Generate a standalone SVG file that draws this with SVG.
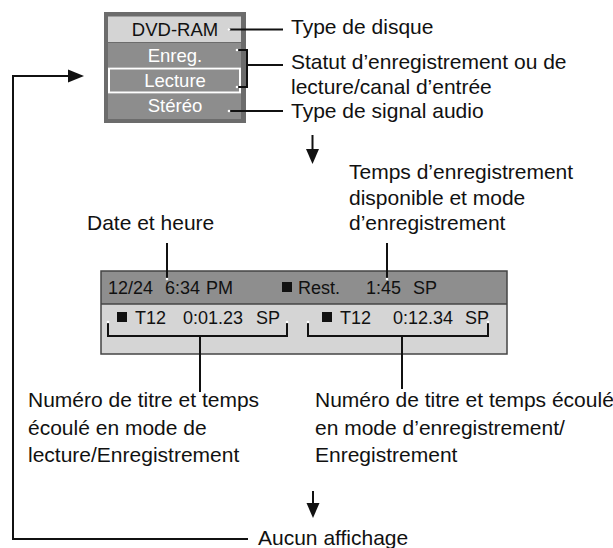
<svg xmlns="http://www.w3.org/2000/svg" width="613" height="548" viewBox="0 0 613 548">
<style>
text{font-family:"Liberation Sans",Arial,Helvetica,sans-serif;fill:#111}
.lbl{font-size:21px}
.pn{font-size:18.5px;text-anchor:middle}
.pw{fill:#ffffff}
.mp{font-size:18px}
.ln{stroke:#111;stroke-width:2;fill:none}
.dot{fill:#ffffff}
</style>
<rect width="613" height="548" fill="#ffffff"/>

<g id="small-panel">
<rect x="104" y="12" width="142" height="111" fill="#6c6c6c"/>
<rect x="108" y="16.5" width="133" height="25.5" fill="#d4d4d4"/>
<rect x="108" y="43" width="133" height="24" fill="#8d8d8d"/>
<rect x="109" y="68.5" width="131" height="24" fill="#8d8d8d" stroke="#ffffff" stroke-width="2"/>
<rect x="108" y="94" width="133" height="25" fill="#8d8d8d"/>
<text class="pn" x="175" y="35.5">DVD-RAM</text>
<text class="pn pw" x="175" y="61.5">Enreg.</text>
<text class="pn pw" x="175" y="86.5">Lecture</text>
<text class="pn pw" x="175" y="111.5">Stéréo</text>
</g>

<g id="main-panel">
<rect x="101" y="271" width="406" height="33" fill="#8e8e8e"/>
<rect x="101" y="304" width="406" height="50" fill="#d5d5d5"/>
<rect x="101" y="271" width="406" height="83" fill="none" stroke="#444" stroke-width="1.5"/>
<line x1="101" y1="304" x2="507" y2="304" stroke="#444" stroke-width="1.5"/>
<text class="mp" y="294"><tspan x="108">12/24</tspan><tspan x="165">6:34</tspan><tspan x="206">PM</tspan><tspan x="298">Rest.</tspan><tspan x="366">1:45</tspan><tspan x="413">SP</tspan></text>
<rect x="282" y="282" width="10" height="10" fill="#111"/>
<text class="mp" y="324"><tspan x="135">T12</tspan><tspan x="183">0:01.23</tspan><tspan x="256">SP</tspan><tspan x="340">T12</tspan><tspan x="393">0:12.34</tspan><tspan x="465">SP</tspan></text>
<rect x="117" y="312" width="10" height="10" fill="#111"/>
<rect x="322" y="312" width="10" height="10" fill="#111"/>
</g>

<g id="label-type-disque"><text class="lbl" x="291" y="34">Type de disque</text></g>
<g id="label-statut"><text class="lbl" x="291" y="69">Statut d’enregistrement ou de</text><text class="lbl" x="291" y="94">lecture/canal d’entrée</text></g>
<g id="label-signal"><text class="lbl" x="291" y="118">Type de signal audio</text></g>
<g id="label-date"><text class="lbl" x="87" y="230">Date et heure</text></g>
<g id="label-temps"><text class="lbl" x="349" y="179">Temps d’enregistrement</text><text class="lbl" x="349" y="204.5">disponible et mode</text><text class="lbl" x="349" y="230">d’enregistrement</text></g>
<g id="label-titre-lecture"><text class="lbl" x="28" y="407">Numéro de titre et temps</text><text class="lbl" x="28" y="434.5">écoulé en mode de</text><text class="lbl" x="28" y="462">lecture/Enregistrement</text></g>
<g id="label-titre-enreg"><text class="lbl" x="315" y="407">Numéro de titre et temps écoulé</text><text class="lbl" x="315" y="434.5">en mode d’enregistrement/</text><text class="lbl" x="315" y="462">Enregistrement</text></g>
<g id="label-aucun"><text class="lbl" x="258" y="545">Aucun affichage</text></g>

<g id="connectors">
<path class="ln" d="M229 29.5 H283"/>
<path class="ln" d="M237 50 H247 V87 H237 M247 65 H283"/>
<path class="ln" d="M229 111 H283"/>
<path class="ln" d="M167 243 V279"/>
<path class="ln" d="M387 243 V279"/>
<path class="ln" d="M108 322 V336 H287 V322 M200 336 V392"/>
<path class="ln" d="M308 322 V336 H488 V322 M402 336 V389"/>
<path class="ln" d="M248 539 H13 V76 H70"/>
<path d="M68 69.5 L84 76 L68 82.5 Z" fill="#111"/>
<path class="ln" d="M312.5 135 V150"/>
<path d="M306 149 L319 149 L312.5 164 Z" fill="#111"/>
<path class="ln" d="M313 491 V504"/>
<path d="M306.5 503 L319.5 503 L313 518 Z" fill="#111"/>
<circle class="dot" cx="229" cy="29.5" r="1.3"/>
<circle class="dot" cx="237" cy="50" r="1.3"/>
<circle class="dot" cx="237" cy="87" r="1.3"/>
<circle class="dot" cx="229" cy="111" r="1.3"/>
<circle class="dot" cx="167" cy="279" r="1.3"/>
<circle class="dot" cx="387" cy="279" r="1.3"/>
<circle class="dot" cx="108" cy="322" r="1.3"/>
<circle class="dot" cx="287" cy="322" r="1.3"/>
<circle class="dot" cx="308" cy="322" r="1.3"/>
<circle class="dot" cx="488" cy="322" r="1.3"/>
</g>
</svg>
